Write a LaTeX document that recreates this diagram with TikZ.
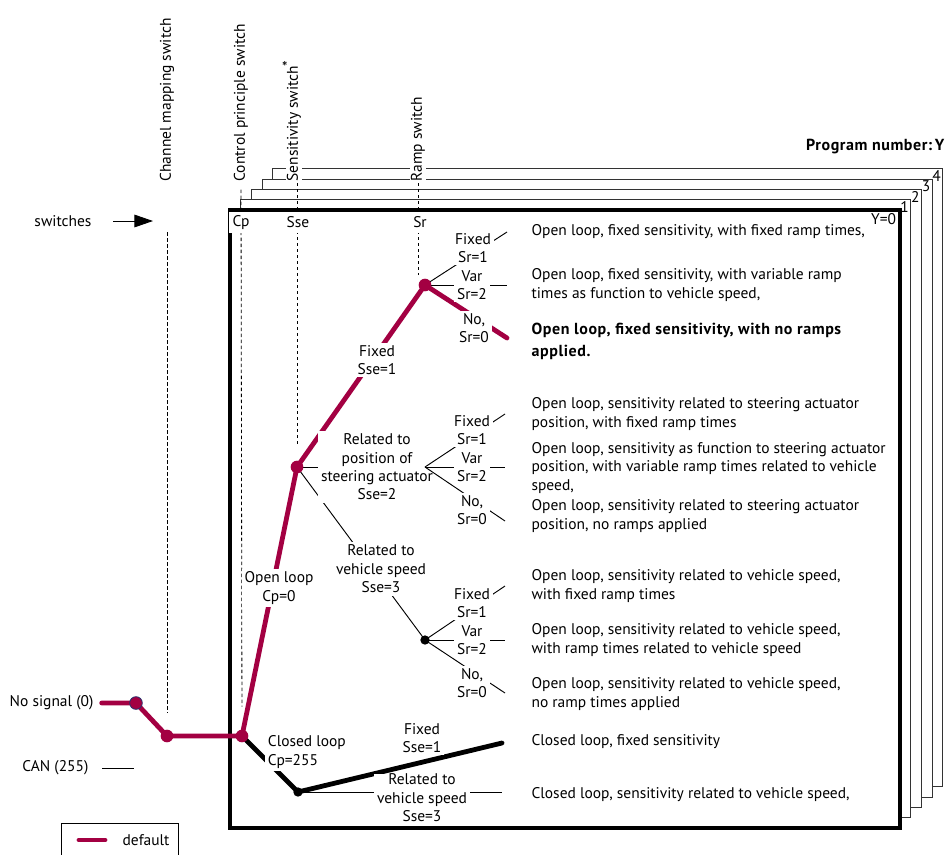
\documentclass[tikz,border=0pt]{standalone}
\usepackage{fontspec}
\setmainfont{PT Sans}
\usetikzlibrary{arrows.meta,positioning}

\definecolor{defred}{RGB}{163,0,66}
\definecolor{rimblue}{RGB}{40,50,110}

\newcommand{\boldtxt}{\fontsize{12}{16.5}\selectfont\bfseries\addfontfeature{LetterSpace=3.5}}

\tikzset{
  txt/.style={font=\fontsize{11.6}{13.8}\selectfont, inner sep=1pt, align=center},
  desc/.style={txt, align=left, anchor=west},
  lbl/.style={txt, fill=white, inner sep=2pt},
  num/.style={txt, inner sep=0.5pt},
  swlabel/.style={txt, rotate=90, anchor=west, fill=white},
  tab/.style={txt, fill=white, anchor=north, inner xsep=2.5pt, minimum height=15.75pt},
  frame/.style={line width=3pt, fill=white},
  page/.style={draw=black!80, fill=white, line width=0.9pt},
  wire/.style={line width=0.7pt},
  guide/.style={line width=0.6pt, dash pattern=on 2.5pt off 2pt},
  defline/.style={draw=defred, line width=3.6pt, line join=round, line cap=round},
  cline/.style={line width=3.6pt, line join=round, line cap=round},
  hub/.style={circle, fill=defred, inner sep=0pt, minimum size=9.5pt},
  dot/.style={circle, fill=black, inner sep=0pt, minimum size=7pt},
}

\begin{document}
\begin{tikzpicture}[x=0.75pt, y=-0.75pt]
  \useasboundingbox (0,0) rectangle (949,854);

  % program pages behind the first one
  \foreach \k in {4,3,2,1} {
    \draw[page] (230+10.7*\k,210-10.3*\k) rectangle +(670,618);
    \node[num, anchor=north east] at (899+10.7*\k,211-10.3*\k) {\k};
  }
  \draw[frame] (230,210) rectangle (900,828);
  \node[num, anchor=north east] (y0) at (897,213) {Y=0};
  \node[txt, anchor=east, font=\boldtxt] (prog) at (946,147) {Program number:\,Y};

  % switch names
  \node[swlabel] (swCh)  at (167,183) {Channel mapping switch};
  \node[swlabel] (swCp)  at (241,183) {Control principle switch};
  \node[swlabel] (swSse) at (294,183) {Sensitivity switch\smash{\raisebox{0.25em}{\large*}}};
  \node[swlabel] (swSr)  at (418,183) {Ramp switch};

  \node[txt, anchor=east] (swTxt) at (93,221) {switches};
  \coordinate (swArr) at (153,221);
  \draw[wire, -{Triangle[length=14pt,width=9.5pt]}] ([xshift=15pt]swTxt.east) -- (swArr);

  % switch contacts
  \coordinate (cNone) at (136,703);
  \coordinate (cCan)  at (134,768);
  \coordinate (hCh)   at (167,736);
  \coordinate (hCp)   at (242,736);
  \coordinate (hSse)  at (297,467);
  \coordinate (hSr)   at (425,285);
  \coordinate (hSr2)  at (425,467);
  \coordinate (hSr3)  at (425,640);
  \coordinate (hCl)   at (298,792);

  \coordinate (eR1a) at (507,232);
  \coordinate (eR1b) at (507,285);
  \coordinate (eR1c) at (507,338);
  \coordinate (eR2a) at (505,414);
  \coordinate (eR2b) at (505,467);
  \coordinate (eR2c) at (505,521);
  \coordinate (eR3a) at (505,586);
  \coordinate (eR3b) at (505,640);
  \coordinate (eR3c) at (505,693);
  \coordinate (eC1)  at (502,743);
  \coordinate (eC3)  at (502,792);

  % dashed switch axes
  \draw[guide, shorten <=37pt, shorten >=17pt] (swCh.west) -- (hCh);
  \draw[guide, shorten <=5pt, shorten >=22pt] (swCp.west) -- (hCp);
  \draw[guide, shorten >=16.5pt] (swSse.west -| hSse) -- (hSse);
  \draw[guide, shorten >=7.5pt] (swSr.west) -- (swSr.west |- hSr);

  \node[tab] (tCp)  at (241,211.5) {Cp};
  \node[tab] (tSse) at (298,211.5) {Sse};
  \node[tab] (tSr)  at (420,211.5) {Sr};

  % inputs
  \node[txt, anchor=east] (nosig) at (95,703) {No signal (0)};
  \node[txt, anchor=east] (can) at (90,768) {CAN (255)};
  \draw[wire] ([xshift=9pt]can.east) -- (cCan);

  % branches
  \draw[wire] (hSr) -- (eR1a);
  \draw[wire] (hSr) -- (eR1b);
  \draw[wire] (hSse) -- (hSr2);
  \draw[wire] (hSse) -- (hSr3);
  \draw[wire] (hCl) -- (eC3);
  \draw[defline] ([xshift=5pt]nosig.east) -- (cNone) -- (hCh) -- (hCp) -- (hSse) -- (hSr) -- (eR1c);
  \draw[cline] (hCp) -- (hCl) -- (eC1);

  \node[lbl] (lOpen) at (279,588) {Open loop\\Cp=0};
  \node[lbl, anchor=west, align=left] (lClosed) at (265,752) {Closed loop\\Cp=255};
  \node[lbl] (lFixSse) at (377,360) {Fixed\\Sse=1};
  \node[lbl] (lPos) at (377,467) {Related to\\position of\\steering actuator\\Sse=2};
  \node[lbl] (lSpd) at (381,569) {Related to\\vehicle speed\\Sse=3};
  \node[lbl] (lClFix) at (422,738) {Fixed\\Sse=1};
  \node[lbl, inner ysep=0pt] (lClSpd) at (422,798) {Related to\\vehicle speed\\Sse=3};

  \draw[wire] (hSr2) -- (eR2a);
  \draw[wire] (hSr2) -- (eR2b);
  \draw[wire] (hSr2) -- (eR2c);
  \draw[wire] (hSr3) -- (eR3a);
  \draw[wire] (hSr3) -- (eR3b);
  \draw[wire] (hSr3) -- (eR3c);

  \node[lbl] (l1a) at (473,248) {Fixed\\Sr=1};
  \node[lbl] (l1b) at (472,285) {Var\\Sr=2};
  \node[lbl] (l1c) at (474,328) {No,\\Sr=0};
  \node[lbl] (l2a) at (472,430) {Fixed\\Sr=1};
  \node[lbl] (l2b) at (472,467) {Var\\Sr=2};
  \node[lbl] (l2c) at (472,510) {No,\\Sr=0};
  \node[lbl] (l3a) at (472,603) {Fixed\\Sr=1};
  \node[lbl] (l3b) at (472,640) {Var\\Sr=2};
  \node[lbl] (l3c) at (472,683) {No,\\Sr=0};

  % contact points
  \node[hub, draw=rimblue, line width=0.6pt] (dNone) at (cNone) {};
  \node[hub] (dCh)  at (hCh) {};
  \node[hub] (dCp)  at (hCp) {};
  \node[hub] (dSse) at (hSse) {};
  \node[hub] (dSr)  at (hSr) {};
  \node[dot] (dSr3) at (hSr3) {};
  \node[dot] (dCl)  at (hCl) {};

  % resulting modes
  \node[desc] (d1a) at (530,232) {Open loop, fixed sensitivity, with fixed ramp times,};
  \node[desc] (d1b) at (530,285) {Open loop, fixed sensitivity, with variable ramp\\times as function to vehicle speed,};
  \node[desc, font=\boldtxt] (d1c) at (530,341) {Open loop, fixed sensitivity, with no ramps\\applied.};
  \node[desc] (d2a) at (530,414) {Open loop, sensitivity related to steering actuator\\position, with fixed ramp times};
  \node[desc] (d2b) at (530,468) {Open loop, sensitivity as function to steering actuator\\position, with variable ramp times related to vehicle\\speed,};
  \node[desc] (d2c) at (530,516) {Open loop, sensitivity related to steering actuator\\position, no ramps applied};
  \node[desc] (d3a) at (530,586) {Open loop, sensitivity related to vehicle speed,\\with fixed ramp times};
  \node[desc] (d3b) at (530,640) {Open loop, sensitivity related to vehicle speed,\\with ramp times related to vehicle speed};
  \node[desc] (d3c) at (530,694) {Open loop, sensitivity related to vehicle speed,\\no ramp times applied};
  \node[desc] (dC1) at (530,742) {Closed loop, fixed sensitivity};
  \node[desc] (dC3) at (530,795) {Closed loop, sensitivity related to vehicle speed,};

  % legend
  \draw[wire] (61,858) -- (61,823) -- (178,823) -- (178,858);
  \node[txt, anchor=west] (legTxt) at (121,840) {default};
  \draw[defline] ([xshift=-12pt]legTxt.west) -- ++(-26,0);
\end{tikzpicture}
\end{document}
